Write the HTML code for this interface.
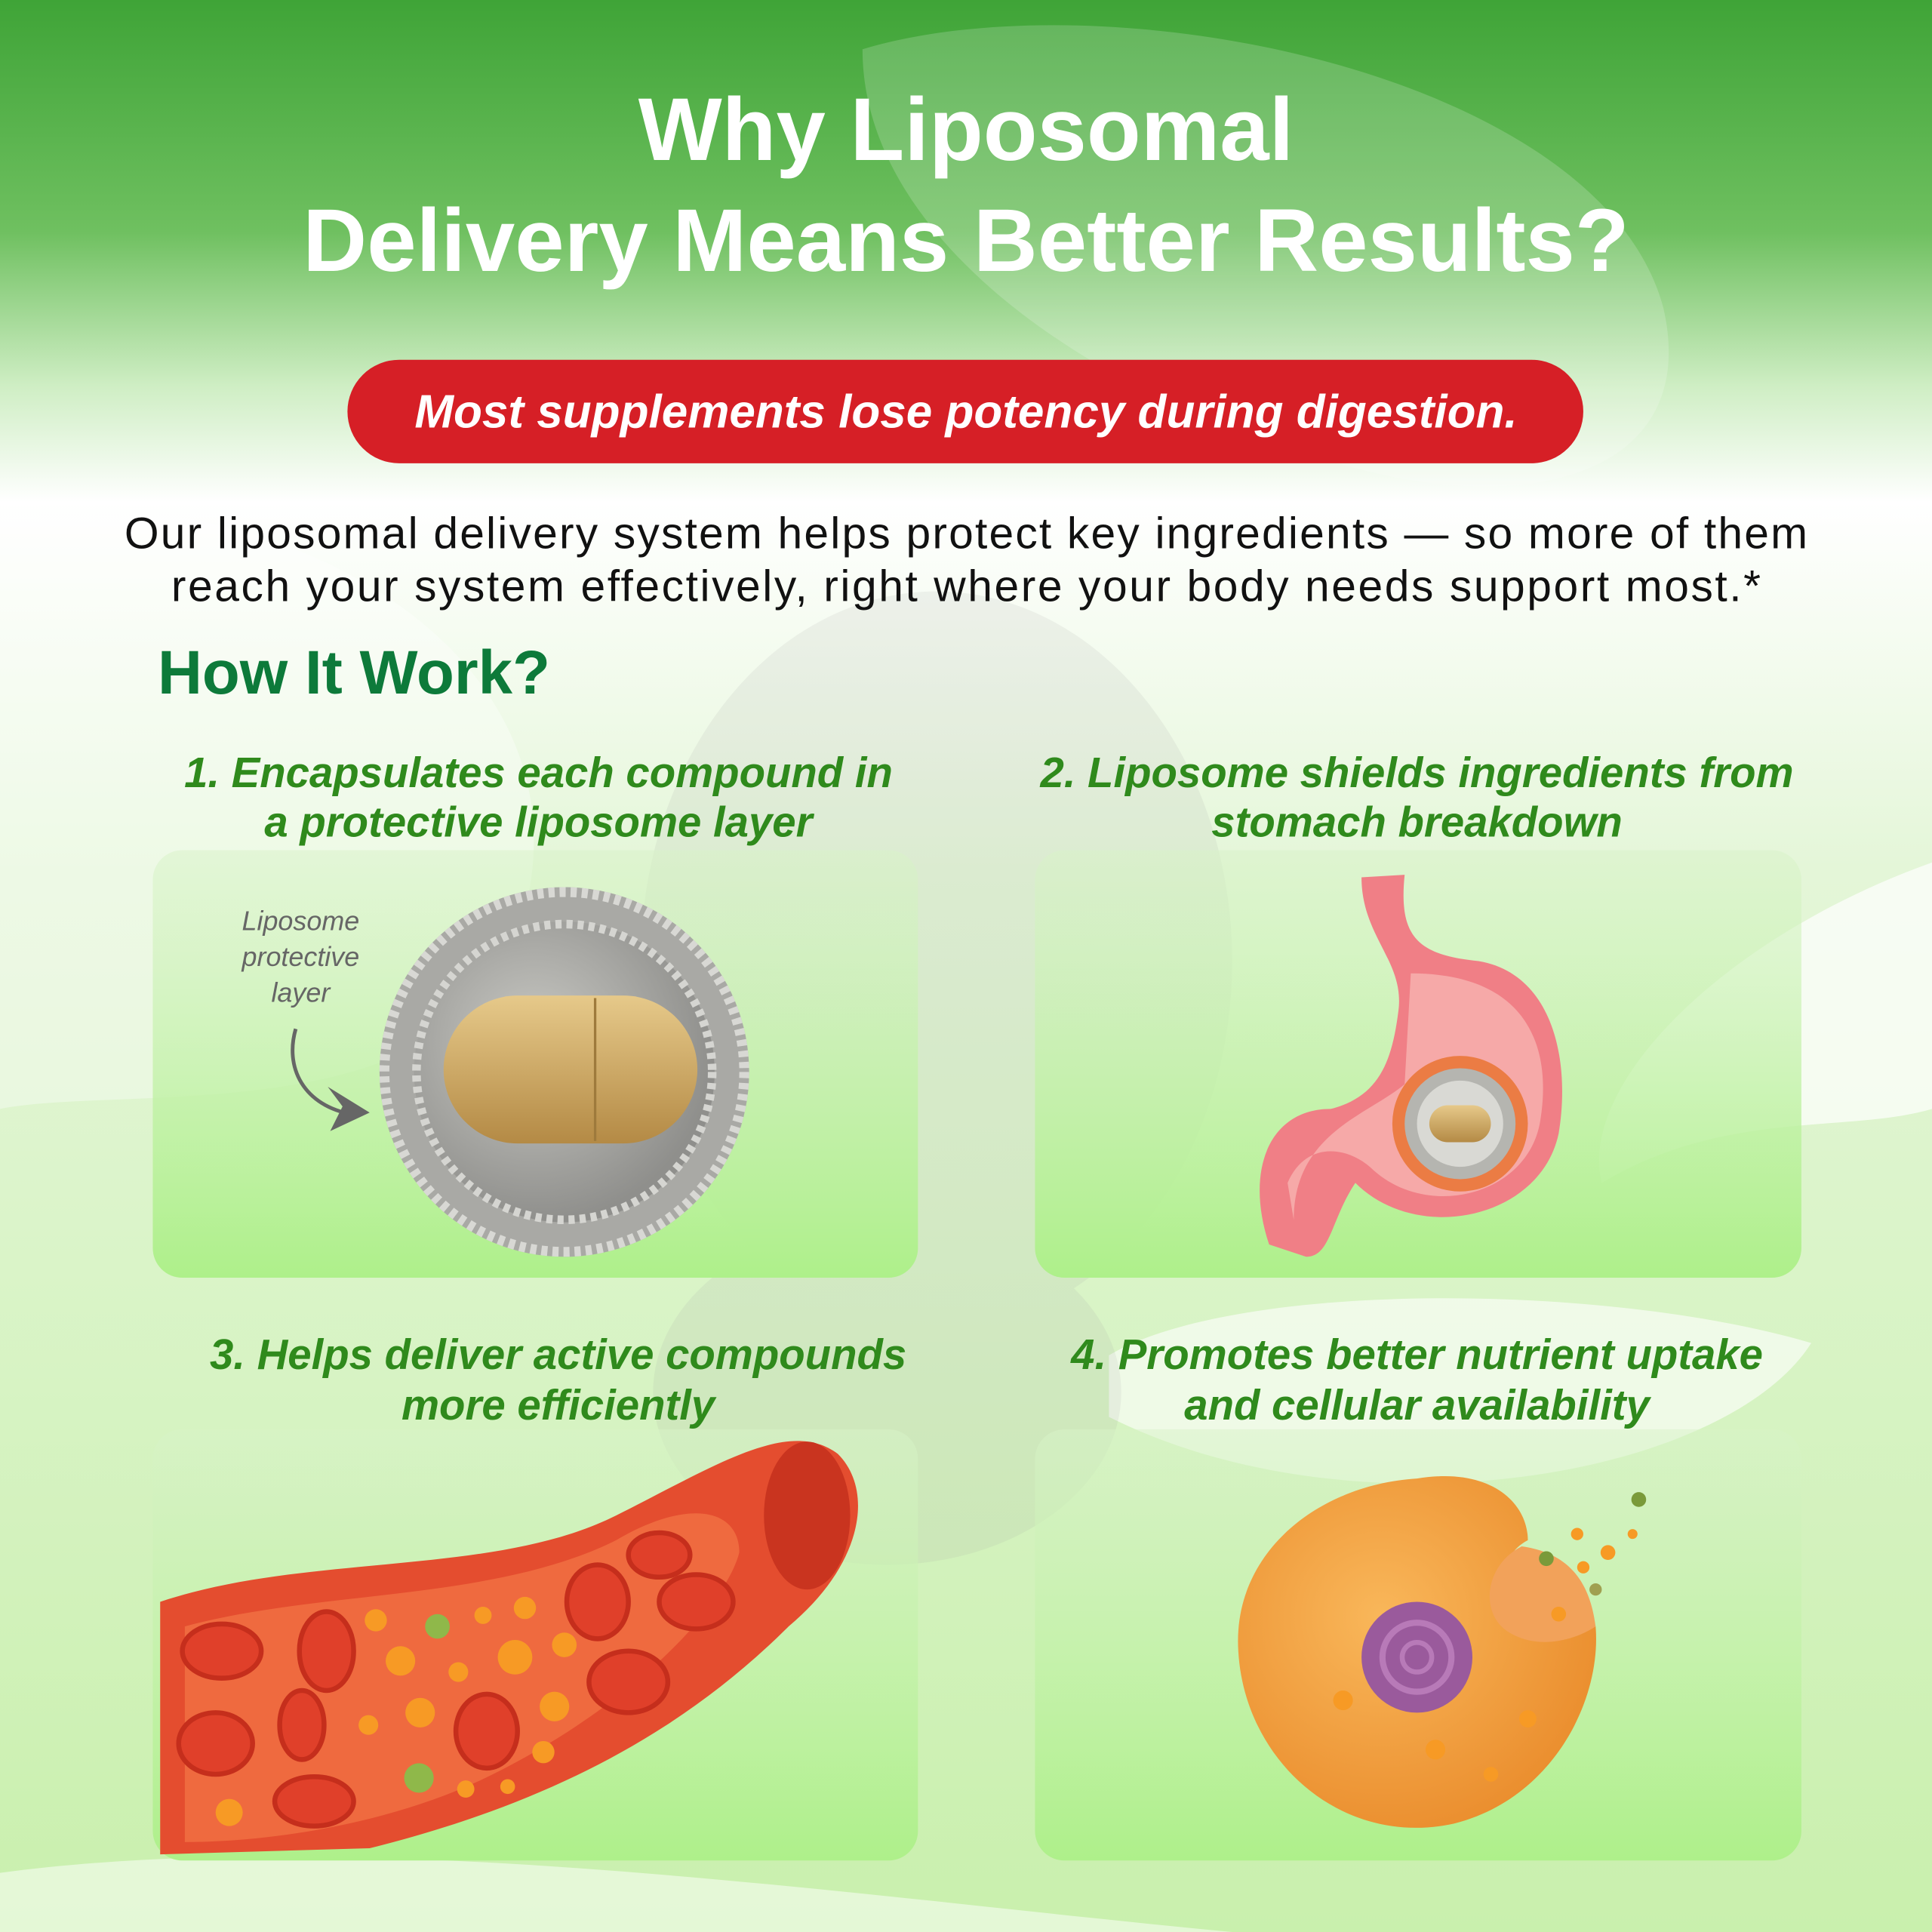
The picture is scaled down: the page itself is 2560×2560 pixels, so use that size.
<!DOCTYPE html>
<html><head><meta charset="utf-8"><style>html,body{margin:0;padding:0;width:2560px;height:2560px;overflow:hidden}svg{display:block}</style></head><body>
<svg width="2560" height="2560" viewBox="0 0 1568 1568" xmlns="http://www.w3.org/2000/svg">
<defs>
<linearGradient id="bg" x1="0" y1="0" x2="0" y2="1">
<stop offset="0" stop-color="#3fa437"/><stop offset="0.12" stop-color="#6fc060"/><stop offset="0.2" stop-color="#cfeec4"/><stop offset="0.26" stop-color="#ffffff"/><stop offset="0.45" stop-color="#e4f6d8"/><stop offset="1" stop-color="#c9f0ad"/>
</linearGradient>
<linearGradient id="pan" x1="0" y1="0" x2="0" y2="1"><stop offset="0" stop-color="#d8f3c8" stop-opacity="0.5"/><stop offset="1" stop-color="#aef08a"/></linearGradient>
<radialGradient id="lip" cx="0.4" cy="0.4" r="0.6"><stop offset="0" stop-color="#c9c9c4"/><stop offset="1" stop-color="#8f8f8c"/></radialGradient>
<linearGradient id="cap" x1="0" y1="0" x2="0" y2="1"><stop offset="0" stop-color="#e6c98a"/><stop offset="1" stop-color="#b48a45"/></linearGradient>
<radialGradient id="cell" cx="0.4" cy="0.4" r="0.7"><stop offset="0" stop-color="#f9b75a"/><stop offset="1" stop-color="#e98a2a"/></radialGradient>
</defs>
<rect width="1568" height="1568" fill="url(#bg)"/>
<path d="M700 40 C900 -20 1300 60 1350 250 C1380 380 1250 420 1100 380 C900 330 700 200 700 40Z" fill="#ffffff" opacity="0.18"/>
<path d="M0 420 C200 380 500 520 420 760 C360 920 100 880 0 900Z" fill="#ffffff" opacity="0.35"/>
<path d="M1568 700 C1400 760 1280 880 1300 960 C1400 900 1500 920 1568 900Z" fill="#ffffff" opacity="0.7"/>
<path d="M900 1100 C1000 1040 1300 1040 1470 1090 C1400 1200 1100 1250 900 1150Z" fill="#ffffff" opacity="0.6"/>
<path d="M0 1520 C300 1480 700 1540 1000 1568 L0 1568Z" fill="#ffffff" opacity="0.5"/>
<g fill="#a0a0a0" opacity="0.12">
<ellipse cx="760" cy="780" rx="240" ry="300"/>
<ellipse cx="720" cy="1130" rx="190" ry="140"/>
</g>
<text x="784" y="130" text-anchor="middle" font-family="Liberation Sans, sans-serif" font-weight="bold" font-size="72" fill="#fff">Why Liposomal</text>
<text x="784" y="220" text-anchor="middle" font-family="Liberation Sans, sans-serif" font-weight="bold" font-size="72" fill="#fff">Delivery Means Better Results?</text>
<rect x="282" y="292" width="1003" height="84" rx="42" fill="#d61f26"/>
<text x="784" y="347" text-anchor="middle" font-family="Liberation Sans, sans-serif" font-weight="bold" font-style="italic" font-size="38" fill="#fff">Most supplements lose potency during digestion.</text>
<text x="784" y="445" text-anchor="middle" font-family="Liberation Sans, sans-serif" font-size="36" textLength="1366" lengthAdjust="spacing" fill="#111">Our liposomal delivery system helps protect key ingredients — so more of them</text>
<text x="784" y="488" text-anchor="middle" font-family="Liberation Sans, sans-serif" font-size="36" textLength="1290" lengthAdjust="spacing" fill="#111">reach your system effectively, right where your body needs support most.*</text>
<text x="128" y="563" font-family="Liberation Sans, sans-serif" font-weight="bold" font-size="50" fill="#0d7a3a">How It Work?</text>
<rect x="124" y="690" width="621" height="347" rx="24" fill="url(#pan)"/>
<rect x="840" y="690" width="622" height="347" rx="24" fill="url(#pan)"/>
<rect x="124" y="1160" width="621" height="350" rx="24" fill="url(#pan)"/>
<rect x="840" y="1160" width="622" height="350" rx="24" fill="url(#pan)"/>
<g font-family="Liberation Sans, sans-serif" font-weight="bold" font-style="italic" font-size="34.5" fill="#2f8a1c" text-anchor="middle">
<text x="437" y="639">1. Encapsulates each compound in</text>
<text x="437" y="679">a protective liposome layer</text>
<text x="1150" y="639">2. Liposome shields ingredients from</text>
<text x="1150" y="679">stomach breakdown</text>
<text x="453" y="1111">3. Helps deliver active compounds</text>
<text x="453" y="1152">more efficiently</text>
<text x="1150" y="1111">4. Promotes better nutrient uptake</text>
<text x="1150" y="1152">and cellular availability</text>
</g>
<g font-family="Liberation Sans, sans-serif" font-style="italic" font-size="22" fill="#666" text-anchor="middle">
<text x="244" y="755">Liposome</text><text x="244" y="784">protective</text><text x="244" y="813">layer</text></g>
<path d="M240 835 C230 870 250 900 290 905" stroke="#666" stroke-width="3" fill="none"/>
<path d="M300 903 L268 918 L278 898 L266 882Z" fill="#666"/>
<circle cx="458" cy="870" r="150" fill="#a9a9a5"/>
<circle cx="458" cy="870" r="146" fill="none" stroke="#d8d8d4" stroke-width="8" stroke-dasharray="5 4"/>
<circle cx="458" cy="870" r="122" fill="url(#lip)"/>
<circle cx="458" cy="870" r="120" fill="none" stroke="#d5d5d1" stroke-width="7" stroke-dasharray="5 4"/>
<rect x="360" y="808" width="206" height="120" rx="60" fill="url(#cap)"/>
<line x1="483" y1="810" x2="483" y2="926" stroke="#9e7a3c" stroke-width="2"/>
<path d="M1105 712 L1140 710 C1135 760 1150 775 1200 780 C1260 790 1275 860 1265 920 C1250 990 1150 1010 1100 960 C1080 990 1080 1020 1060 1020 L1030 1010 C1010 950 1030 900 1080 900 C1120 890 1130 860 1135 820 C1140 780 1105 760 1105 712Z" fill="#f07f86"/>
<path d="M1145 790 C1240 790 1260 850 1250 910 C1240 970 1160 990 1115 950 C1095 930 1060 925 1045 960 L1050 990 C1050 920 1110 905 1140 880Z" fill="#f6a9a8"/>
<circle cx="1185" cy="912" r="55" fill="#e8702a" opacity="0.8"/>
<circle cx="1185" cy="912" r="45" fill="#b5b5b0"/>
<circle cx="1185" cy="912" r="35" fill="#d9d9d4"/>
<rect x="1160" y="897" width="50" height="30" rx="15" fill="url(#cap)"/>
<path d="M130 1300 C250 1260 400 1280 500 1230 C580 1190 640 1150 680 1180 C710 1210 700 1270 640 1320 C540 1420 420 1470 300 1500 L130 1505Z" fill="#e44d2f"/>
<path d="M150 1320 C260 1290 400 1300 500 1250 C560 1215 600 1225 600 1260 C590 1300 520 1380 400 1440 C320 1480 220 1495 150 1495Z" fill="#ef6a3f"/>
<ellipse cx="655" cy="1230" rx="35" ry="60" fill="#c9341f"/>
<g fill="#e0402a" stroke="#c52e1c" stroke-width="4">
<ellipse cx="180" cy="1340" rx="32" ry="22"/><ellipse cx="265" cy="1340" rx="22" ry="32"/><ellipse cx="175" cy="1415" rx="30" ry="25"/><ellipse cx="245" cy="1400" rx="18" ry="28"/><ellipse cx="255" cy="1462" rx="32" ry="20"/><ellipse cx="395" cy="1405" rx="25" ry="30"/><ellipse cx="485" cy="1300" rx="25" ry="30"/><ellipse cx="510" cy="1365" rx="32" ry="25"/><ellipse cx="565" cy="1300" rx="30" ry="22"/><ellipse cx="535" cy="1262" rx="25" ry="18"/>
</g>
<g fill="#f79a25"><circle cx="305" cy="1315" r="9"/><circle cx="325" cy="1348" r="12"/><circle cx="372" cy="1357" r="8"/><circle cx="418" cy="1345" r="14"/><circle cx="458" cy="1335" r="10"/><circle cx="426" cy="1305" r="9"/><circle cx="341" cy="1390" r="12"/><circle cx="299" cy="1400" r="8"/><circle cx="450" cy="1385" r="12"/><circle cx="441" cy="1422" r="9"/><circle cx="378" cy="1452" r="7"/><circle cx="186" cy="1471" r="11"/><circle cx="412" cy="1450" r="6"/><circle cx="392" cy="1311" r="7"/></g>
<circle cx="355" cy="1320" r="10" fill="#8fb84a"/><circle cx="340" cy="1443" r="12" fill="#8fb84a"/>
<path d="M1150 1200 C1210 1190 1240 1220 1240 1250 C1220 1260 1210 1290 1230 1310 C1255 1330 1285 1320 1295 1320 C1300 1380 1260 1460 1180 1480 C1090 1500 1010 1430 1005 1340 C1000 1260 1070 1205 1150 1200Z" fill="url(#cell)"/>
<path d="M1235 1255 C1205 1270 1200 1310 1225 1325 C1250 1340 1280 1330 1295 1320 C1290 1280 1270 1260 1235 1255Z" fill="#f2a25a"/>
<circle cx="1150" cy="1345" r="45" fill="#9a5a9c"/>
<circle cx="1150" cy="1345" r="28" fill="none" stroke="#b87ab8" stroke-width="5"/>
<circle cx="1150" cy="1345" r="12" fill="none" stroke="#b87ab8" stroke-width="4"/>
<g fill="#f79a25"><circle cx="1090" cy="1380" r="8"/><circle cx="1165" cy="1420" r="8"/><circle cx="1240" cy="1395" r="7"/><circle cx="1210" cy="1440" r="6"/><circle cx="1305" cy="1260" r="6"/><circle cx="1280" cy="1245" r="5"/><circle cx="1265" cy="1310" r="6"/><circle cx="1325" cy="1245" r="4"/><circle cx="1285" cy="1272" r="5"/></g>
<circle cx="1330" cy="1217" r="6" fill="#7a9a3a"/><circle cx="1255" cy="1265" r="6" fill="#7a9a3a"/><circle cx="1295" cy="1290" r="5" fill="#a0a050"/>
</svg>
</body></html>
